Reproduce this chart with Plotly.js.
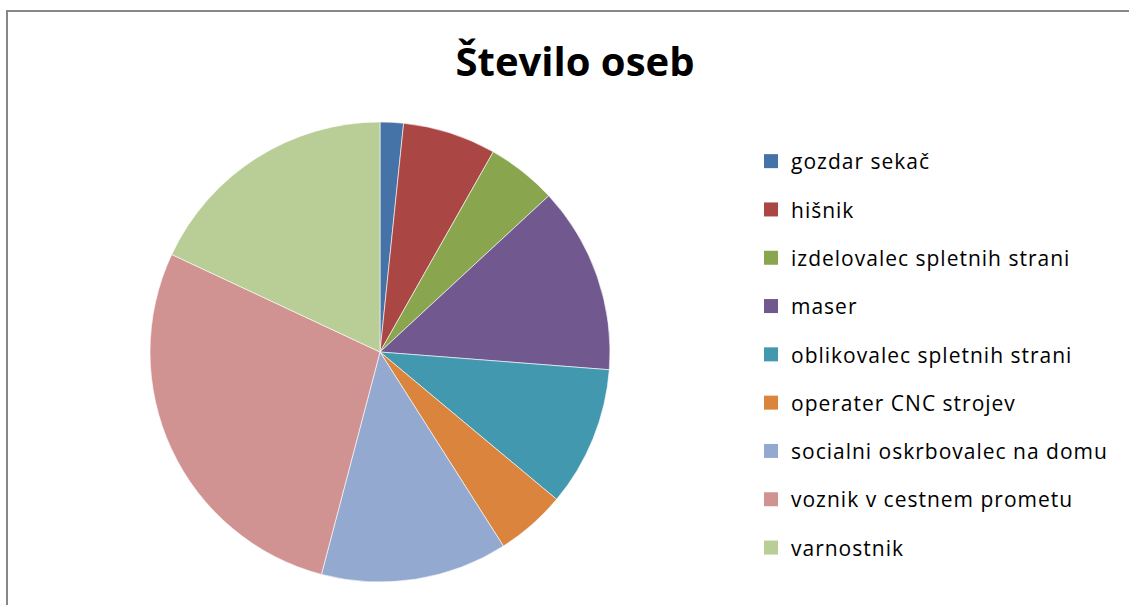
<!DOCTYPE html>
<html>
<head>
<meta charset="utf-8">
<script src="https://cdn.plot.ly/plotly-3.0.1.min.js"></script>
<style>
  html, body { margin: 0; padding: 0; width: 1129px; height: 605px; overflow: hidden; background: #fff; }
  #chart { position: absolute; left: 0; top: 0; width: 1129px; height: 605px; }
  #frame { position: absolute; left: 6px; top: 10px; width: 3000px; height: 3000px;
           border: 2px solid #878787; pointer-events: none; box-sizing: border-box; }
  #chart .legendtext { letter-spacing: 1px; }
  #chart .legend .scrollbox { clip-path: none !important; }
</style>
</head>
<body>
<div id="chart"></div>
<div id="frame"></div>
<script>
const titleText = "Število oseb";
const categories = [
  "gozdar sekač",
  "hišnik",
  "izdelovalec spletnih strani",
  "maser",
  "oblikovalec spletnih strani",
  "operater CNC strojev",
  "socialni oskrbovalec na domu",
  "voznik v cestnem prometu",
  "varnostnik"
];
const values = [1, 4, 3, 8, 6, 3, 8, 17, 11];
const colors = ["#4572A7", "#AA4643", "#89A54E", "#71588F", "#4198AF", "#DB843D", "#93A9CF", "#D19392", "#B9CD96"];

const W = 1129, H = 605;
const fontFam = "'Open Sans', 'Noto Sans', sans-serif";

const traces = [{
  type: "pie",
  labels: categories,
  values: values,
  sort: false,
  direction: "clockwise",
  rotation: 0,
  textinfo: "none",
  hoverinfo: "label+value+percent",
  showlegend: false,
  marker: { colors: colors, line: { color: "rgba(255,255,255,0.6)", width: 1 } },
  domain: { x: [150 / W, 610 / W], y: [1 - 582 / H, 1 - 122 / H] }
}];

categories.forEach((c, i) => {
  traces.push({
    type: "scatter",
    mode: "markers",
    x: [null], y: [null],
    name: c,
    legendgroup: "g" + i,
    marker: { symbol: "square", size: 14, color: colors[i] },
    hoverinfo: "skip"
  });
});

const layout = {
  width: W, height: H,
  margin: { l: 0, r: 0, t: 0, b: 0 },
  paper_bgcolor: "#fff",
  plot_bgcolor: "rgba(0,0,0,0)",
  title: {
    text: "<b>" + titleText + "</b>",
    font: { family: fontFam, size: 40, color: "#000" },
    x: 575 / W, xanchor: "center",
    y: 1 - 62 / H, yanchor: "middle",
    xref: "paper", yref: "container"
  },
  xaxis: { visible: false, domain: [0.9, 1] },
  yaxis: { visible: false, domain: [0.9, 1] },
  showlegend: true,
  legend: {
    x: 751 / W, xanchor: "left",
    y: 1 - 141 / H, yanchor: "top",
    font: { family: fontFam, size: 21, color: "#000" },
    tracegroupgap: 18,
    bgcolor: "rgba(0,0,0,0)"
  }
};

Plotly.newPlot("chart", traces, layout, { displayModeBar: false, staticPlot: true });
</script>
</body>
</html>
